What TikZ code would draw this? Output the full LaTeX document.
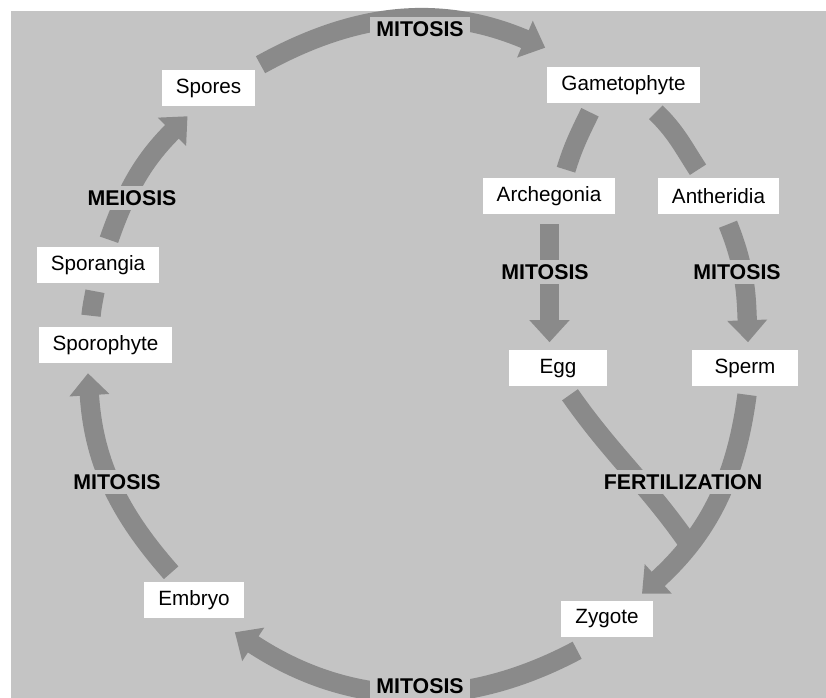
\documentclass[tikz,border=0pt]{standalone}
\usepackage{fontspec}
\setmainfont{Liberation Sans}
\usepackage{xcolor}
\usepackage{tikz}
\usetikzlibrary{arrows.meta}
\definecolor{paper}{HTML}{C4C4C4}
\definecolor{band}{HTML}{8A8A8A}
\tikzset{stage/.style={fill=white,inner xsep=10.5pt,inner ysep=0pt,minimum height=27pt,font=\fontsize{15.5}{18}\selectfont},process/.style={fill=paper,inner xsep=5pt,inner ysep=3pt,font=\fontsize{16}{18}\selectfont\bfseries},cycle edge/.style={draw=band,line width=14.5pt},cycle arrow/.style={cycle edge,-{Triangle[width=29pt,length=16.5pt]}}}
\begin{document}
\begin{tikzpicture}[x=.75pt,y=.75pt]
 \useasboundingbox (0,0) rectangle (826,-698);
 \fill[paper] (11,-11) rectangle (826,-698);

 \node[stage] (spores) at (208.5,-88) {Spores};
 \node[stage] (game) at (623.5,-85) {Gametophyte};
 \node[stage] (arch) at (549,-196) {Archegonia};
 \node[stage] (anth) at (718.5,-196) {Antheridia};
 \node[stage,minimum width=73.5pt] (egg) at (558,-368.5) {Egg};
 \node[stage,minimum width=79.5pt] (sperm) at (745,-368.5) {Sperm};
 \node[stage] (zyg) at (607,-619) {Zygote};
 \node[stage] (embryo) at (194,-600) {Embryo};
 \node[stage] (sporo) at (105.5,-345) {Sporophyte};
 \node[stage] (spora) at (98,-265) {Sporangia};
 \coordinate (fuse) at (688,-543);

 % outer ring, clockwise from the spores
 \draw[cycle arrow] ([shift={(5,5)}]spores.north east) to[out=29,in=157] ([shift={(-2,19)}]game.north west);
 \draw[cycle edge] ([shift={(-44,-9)}]game.south east) to[out=-44,in=123] ([shift={(-20.5,8)}]anth.north);
 \draw[cycle arrow] ([shift={(9.5,-10)}]anth.south) to[out=-68,in=92] ([shift={(3,8)}]sperm.north);
 \draw[cycle arrow] ([shift={(2,-8)}]sperm.south) to[out=-97.5,in=42.5] ([shift={(35,7)}]zyg.north);
 \draw[cycle arrow] ([shift={(16,-13)}]zyg.south west) to[out=208,in=326.6] ([shift={(-9,-14)}]embryo.south east);
 \draw[cycle arrow] ([shift={(27,9)}]embryo.north west) to[out=131.5,in=273.6] ([shift={(-17.5,-10)}]sporo.south);
 \draw[cycle edge] ([shift={(-14.5,11)}]sporo.north) to[out=84,in=259.5] ([shift={(-3,-8)}]spora.south);
 \draw[cycle arrow] ([shift={(11,7)}]spora.north) to[out=71,in=225] ([shift={(26,-10)}]spores.south west);

 % female branch
 \draw[cycle edge] ([shift={(-33.5,-9)}]game.south) to[out=244,in=73] ([shift={(17,8)}]arch.north);
 \draw[cycle arrow] ([shift={(0.5,-10)}]arch.south) -- ([shift={(-8.5,8)}]egg.north);
 \draw[cycle edge] ([shift={(12,-8)}]egg.south) to[out=-55,in=125] (fuse);

 \node[process] (mtop) at (420,-29) {MITOSIS};
 \node[process] (meio) at (132,-198) {MEIOSIS};
 \node[process] (mleft) at (117,-482) {MITOSIS};
 \node[process] (mbot) at (420,-686) {MITOSIS};
 \node[process] (march) at (545,-272) {MITOSIS};
 \node[process] (manth) at (737,-272) {MITOSIS};
 \node[process] (fert) at (683,-482) {FERTILIZATION};
\end{tikzpicture}
\end{document}
